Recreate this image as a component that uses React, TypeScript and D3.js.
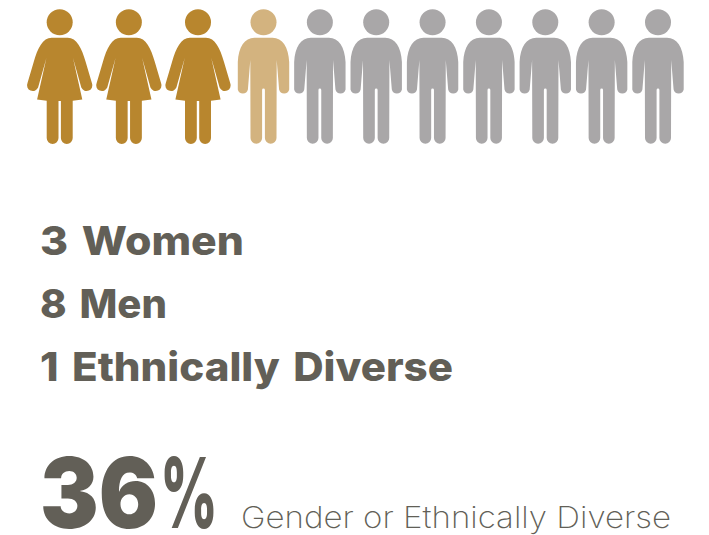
import React from "react";
import * as d3 from "d3";

// Board composition
const womenCount = 3;
const diverseMenCount = 1;
const otherMenCount = 7;
const summaryLines = ["3 Women", "8 Men", "1 Ethnically Diverse"];
const summaryWidths = [204, 127, 413];
const headlineNumber = "36";
const headlineUnit = "%";
const headlineCaption = "Gender or Ethnically Diverse";

const GOLD = "#b8862e";
const SAND = "#d3b37f";
const GREY = "#a9a7a8";
const INK = "#625f57";
const FONT = "Inter, 'Open Sans', sans-serif";

// Figure outlines, centred on x = 0, with y measured from the top of the canvas
const womanBody =
  "M-8,37.7 L8,37.7 C17,37.7 22,48 26,62 L32.2,83 A5.6,5.6 0 0 1 21.6,87.6 L13.3,58 L22.6,99.6 L13,100.8 " +
  "L13,138 A5.7,5.7 0 0 1 1.2,138 L1.2,101 L-1.2,101 L-1.2,138 A5.7,5.7 0 0 1 -13,138 L-13,100.8 L-22.6,99.6 " +
  "L-13.3,58 L-21.6,87.6 A5.6,5.6 0 0 1 -32.2,83 L-26,62 C-22,48 -17,37.7 -8,37.7 Z";
const manBody =
  "M-9,37.7 L9,37.7 C19,37.7 25,47 25.7,62 L25.7,89.5 A5.2,5.2 0 0 1 15.6,89.5 L13.2,60 " +
  "L13,138 A5.7,5.7 0 0 1 1.4,138 L1.4,90 A1.4,1.4 0 0 0 -1.4,90 L-1.4,138 A5.7,5.7 0 0 1 -13,138 " +
  "L-13.2,60 L-15.6,89.5 A5.2,5.2 0 0 1 -25.7,89.5 L-25.7,62 C-25,47 -19,37.7 -9,37.7 Z";

const womenX = d3.scaleLinear().domain([0, 2]).range([59.7, 198]);
const menX = d3.scaleLinear().domain([0, 7]).range([263.5, 658]);

function Person({ x, body, color }: { x: number; body: string; color: string }) {
  return (
    <g transform={`translate(${x},0)`} fill={color}>
      <circle cx={0} cy={22.2} r={13} />
      <path d={body} />
    </g>
  );
}

export default function App() {
  const men = d3.range(diverseMenCount + otherMenCount);
  const lineY = d3.scalePoint<number>().domain([0, 1, 2]).range([255, 381]);
  return (
    <svg
      width={709}
      height={535}
      viewBox="0 0 709 535"
      style={{ position: "absolute", left: 0, top: 0, background: "#fff" }}
    >
      {d3.range(womenCount).map((i) => (
        <Person key={`w${i}`} x={womenX(i)} body={womanBody} color={GOLD} />
      ))}
      {men.map((i) => (
        <Person key={`m${i}`} x={menX(i)} body={manBody} color={i < diverseMenCount ? SAND : GREY} />
      ))}
      {summaryLines.map((line, i) => (
        <text
          key={line}
          x={40}
          y={lineY(i)}
          fontFamily={FONT}
          fontWeight={800}
          fontSize={40}
          wordSpacing={4}
          fill={INK}
          textLength={summaryWidths[i]}
          lengthAdjust="spacingAndGlyphs"
        >
          {line}
        </text>
      ))}
      <text y={528} fontFamily={FONT} fontWeight={900} fontSize={98} fill={INK}>
        <tspan x={40} textLength={118} lengthAdjust="spacingAndGlyphs">
          {headlineNumber}
        </tspan>
        <tspan x={160} fontWeight={800} textLength={58} lengthAdjust="spacingAndGlyphs">
          {headlineUnit}
        </tspan>
      </text>
      <text
        x={241}
        y={528}
        fontFamily={FONT}
        fontWeight={200}
        fontSize={30}
        fill={INK}
        textLength={430}
        lengthAdjust="spacingAndGlyphs"
      >
        {headlineCaption}
      </text>
    </svg>
  );
}
